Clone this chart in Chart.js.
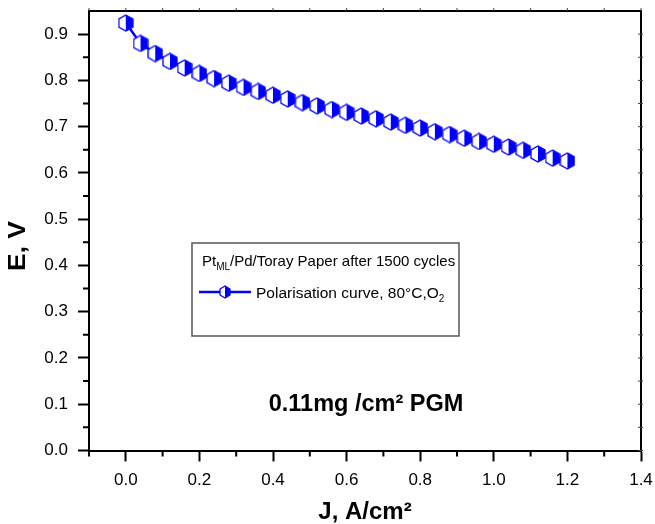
<!DOCTYPE html>
<html>
<head>
<meta charset="utf-8">
<script src="https://cdn.jsdelivr.net/npm/chart.js@4.4.0/dist/chart.umd.min.js"></script>
<style>
  body { margin: 0; background: #fff; }
  #wrap { width: 655px; height: 524px; position: relative; }
</style>
</head>
<body>
<div id="wrap"><canvas id="polChart"></canvas></div>
<script>
// Current density J (A/cm2)
const currentDensity = [0.00, 0.04, 0.08, 0.12, 0.16, 0.20, 0.24, 0.28, 0.32, 0.36, 0.40,
    0.44, 0.48, 0.52, 0.56, 0.60, 0.64, 0.68, 0.72, 0.76, 0.80, 0.84, 0.88, 0.92, 0.96,
    1.00, 1.04, 1.08, 1.12, 1.16, 1.20];
// Cell potential E (V)
const potential = [0.924, 0.880, 0.858, 0.841, 0.827, 0.815, 0.804, 0.794, 0.785, 0.776, 0.768,
    0.760, 0.752, 0.745, 0.737, 0.731, 0.723, 0.717, 0.710, 0.703, 0.697, 0.689, 0.683, 0.675,
    0.668, 0.662, 0.656, 0.649, 0.641, 0.632, 0.626];

const xMajorTicks = [0.0, 0.2, 0.4, 0.6, 0.8, 1.0, 1.2, 1.4];
const xMinorTicks = [-0.1, 0.1, 0.3, 0.5, 0.7, 0.9, 1.1, 1.3];
const yMajorTicks = [0.0, 0.1, 0.2, 0.3, 0.4, 0.5, 0.6, 0.7, 0.8, 0.9];
const yMinorTicks = [0.05, 0.15, 0.25, 0.35, 0.45, 0.55, 0.65, 0.75, 0.85];

const BLUE = '#0000ff';
const FONT = "'Liberation Sans', Arial, sans-serif";

// half-filled hexagon marker, drawn once on a small canvas
function makeHexMarker(w, h) {
    const c = document.createElement('canvas');
    c.width = w + 2;
    c.height = h + 2;
    const g = c.getContext('2d');
    const cx = c.width / 2, top = 1, bot = h + 1, l = 1, r = w + 1;
    const q1 = top + h / 4, q3 = top + 3 * h / 4;
    const outline = () => {
        g.beginPath();
        g.moveTo(cx, top); g.lineTo(r, q1); g.lineTo(r, q3);
        g.lineTo(cx, bot); g.lineTo(l, q3); g.lineTo(l, q1); g.closePath();
    };
    outline();
    g.fillStyle = '#fff';
    g.fill();
    g.beginPath();
    g.moveTo(cx, top); g.lineTo(r, q1); g.lineTo(r, q3); g.lineTo(cx, bot); g.closePath();
    g.fillStyle = BLUE;
    g.fill();
    outline();
    g.strokeStyle = BLUE;
    g.lineWidth = 1.3;
    g.stroke();
    return c;
}

const pointMarker = makeHexMarker(14, 16);
const legendMarker = makeHexMarker(10, 12);

// extra drawing: minor ticks, frame, y title, legend box, annotation
const decorations = {
    id: 'decorations',
    afterDraw(chart) {
        const ctx = chart.ctx;
        const xs = chart.scales.x;
        const ys = chart.scales.y;
        const area = chart.chartArea;
        ctx.save();

        // frame top and right
        ctx.strokeStyle = '#000';
        ctx.lineWidth = 2;
        ctx.beginPath();
        ctx.moveTo(area.left - 1, area.top);
        ctx.lineTo(area.right, area.top);
        ctx.lineTo(area.right, area.bottom);
        ctx.stroke();

        // minor ticks on bottom and left
        ctx.beginPath();
        xMinorTicks.forEach(v => {
            const px = xs.getPixelForValue(v);
            ctx.moveTo(px, area.bottom);
            ctx.lineTo(px, area.bottom + 6);
        });
        yMinorTicks.forEach(v => {
            const py = ys.getPixelForValue(v);
            ctx.moveTo(area.left, py);
            ctx.lineTo(area.left - 6, py);
        });
        ctx.stroke();

        // small ticks on top and right
        ctx.lineWidth = 1;
        ctx.strokeStyle = '#444';
        ctx.beginPath();
        xMajorTicks.concat(xMinorTicks).forEach(v => {
            const px = xs.getPixelForValue(v);
            ctx.moveTo(px, area.top);
            ctx.lineTo(px, area.top - 3);
        });
        yMajorTicks.concat(yMinorTicks).forEach(v => {
            const py = ys.getPixelForValue(v);
            ctx.moveTo(area.right - 3, py);
            ctx.lineTo(area.right + 2, py);
        });
        ctx.stroke();

        // y axis title (a bit stretched along its length, like the original)
        ctx.fillStyle = '#000';
        ctx.save();
        ctx.translate(25, 246);
        ctx.rotate(-Math.PI / 2);
        ctx.scale(1.15, 1);
        ctx.font = 'bold 23px ' + FONT;
        ctx.textAlign = 'center';
        ctx.textBaseline = 'alphabetic';
        ctx.fillText('E, V', 0, 0);
        ctx.restore();

        // legend box
        ctx.strokeStyle = '#555';
        ctx.lineWidth = 1.5;
        ctx.strokeRect(192, 243, 267, 93);

        ctx.textAlign = 'left';
        ctx.textBaseline = 'alphabetic';
        ctx.font = '15px ' + FONT;
        let tx = 202;
        ctx.fillText('Pt', tx, 266);
        tx += ctx.measureText('Pt').width;
        ctx.font = '10px ' + FONT;
        ctx.fillText('ML', tx, 270);
        tx += ctx.measureText('ML').width;
        ctx.font = '15px ' + FONT;
        ctx.fillText('/Pd/Toray Paper after 1500 cycles', tx, 266);

        ctx.strokeStyle = BLUE;
        ctx.lineWidth = 2.5;
        ctx.beginPath();
        ctx.moveTo(199, 292);
        ctx.lineTo(251, 292);
        ctx.stroke();
        ctx.drawImage(legendMarker, 225 - legendMarker.width / 2, 292 - legendMarker.height / 2);

        ctx.font = '15.5px ' + FONT;
        tx = 256;
        ctx.fillText('Polarisation curve, 80°C,O', tx, 298);
        tx += ctx.measureText('Polarisation curve, 80°C,O').width;
        ctx.font = '10px ' + FONT;
        ctx.fillText('2', tx, 302);

        // loading annotation
        ctx.font = 'bold 23.5px ' + FONT;
        ctx.textAlign = 'center';
        ctx.fillText('0.11mg /cm² PGM', 366, 411);

        ctx.restore();
    }
};

const tickFont = { family: FONT, size: 17 };

new Chart(document.getElementById('polChart'), {
    type: 'line',
    data: {
        datasets: [{
            label: 'Polarisation curve, 80°C,O2',
            data: currentDensity.map((j, i) => ({ x: j, y: potential[i] })),
            borderColor: BLUE,
            borderWidth: 2.5,
            tension: 0,
            fill: false,
            pointStyle: pointMarker,
            pointRadius: 8,
            pointHoverRadius: 8
        }]
    },
    options: {
        responsive: true,
        maintainAspectRatio: false,
        animation: false,
        layout: { padding: { top: 11, right: 14, left: 0, bottom: 0 } },
        plugins: {
            legend: { display: false },
            tooltip: { enabled: false }
        },
        scales: {
            x: {
                type: 'linear',
                min: -0.1,
                max: 1.4,
                afterBuildTicks: scale => { scale.ticks = xMajorTicks.map(v => ({ value: v })); },
                afterFit: scale => {
                    scale.height = 73.5;
                    scale.paddingLeft = 0;
                    scale.paddingRight = 0;
                },
                border: { display: true, color: '#000', width: 2 },
                grid: { drawOnChartArea: false, drawTicks: true, tickLength: 11, tickWidth: 2, tickColor: '#000' },
                ticks: {
                    color: '#000',
                    font: tickFont,
                    padding: 9,
                    maxRotation: 0,
                    callback: v => v.toFixed(1)
                },
                title: {
                    display: true,
                    text: 'J, A/cm²',
                    color: '#000',
                    font: { family: FONT, size: 24, weight: 'bold' },
                    padding: { top: 0, bottom: -3 }
                }
            },
            y: {
                type: 'linear',
                min: 0,
                max: 0.95,
                afterBuildTicks: scale => { scale.ticks = yMajorTicks.map(v => ({ value: v })); },
                afterFit: scale => {
                    scale.width = 89;
                    scale.paddingTop = 0;
                    scale.paddingBottom = 0;
                },
                border: { display: true, color: '#000', width: 2 },
                grid: { drawOnChartArea: false, drawTicks: true, tickLength: 11, tickWidth: 2, tickColor: '#000' },
                ticks: {
                    color: '#000',
                    font: tickFont,
                    padding: 10,
                    callback: v => v.toFixed(1)
                }
            }
        }
    },
    plugins: [decorations]
});
</script>
</body>
</html>
